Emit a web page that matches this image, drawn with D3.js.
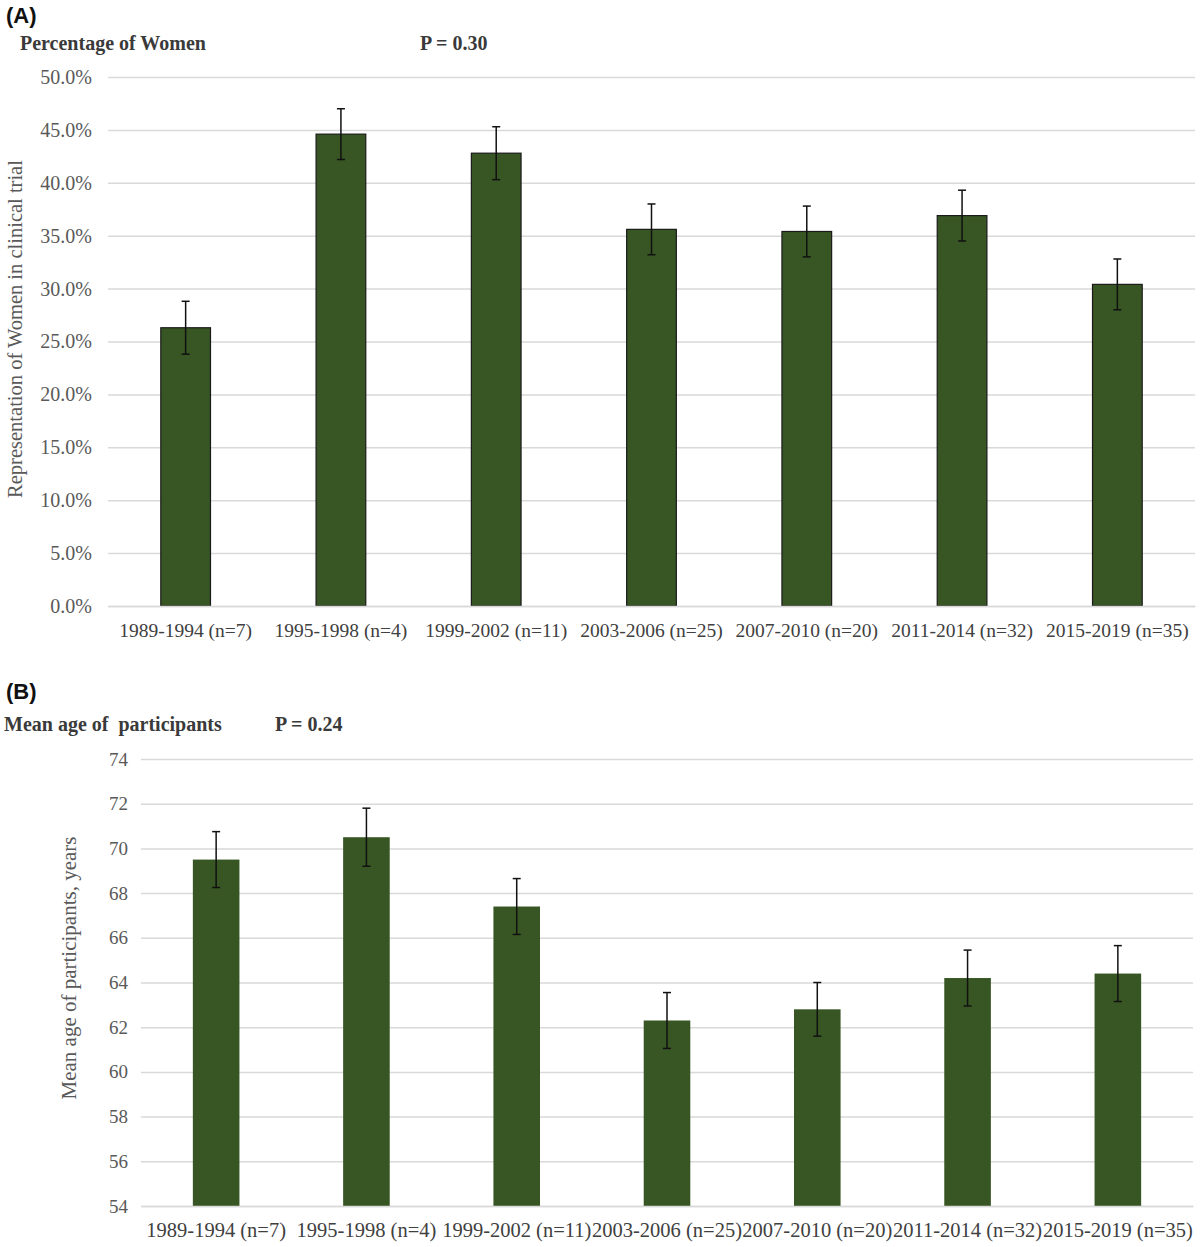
<!DOCTYPE html>
<html><head><meta charset="utf-8">
<script src="https://cdn.jsdelivr.net/npm/d3@7"></script>
<style>body{margin:0;background:#fff}svg{display:block}</style>
</head><body><svg id="c" width="1200" height="1247"></svg>
<script>
const categories = ["1989-1994 (n=7)","1995-1998 (n=4)","1999-2002 (n=11)","2003-2006 (n=25)","2007-2010 (n=20)","2011-2014 (n=32)","2015-2019 (n=35)"];
const womenPct = [26.3, 44.6, 42.8, 35.6, 35.4, 36.9, 30.4];
const womenErr = [2.5, 2.4, 2.5, 2.4, 2.4, 2.4, 2.4];
const womenTicks = [0,5,10,15,20,25,30,35,40,45,50];
const ageMean = [69.5, 70.5, 67.4, 62.3, 62.8, 64.2, 64.4];
const ageErr = [1.25, 1.3, 1.25, 1.25, 1.2, 1.25, 1.25];
const ageTicks = [54,56,58,60,62,64,66,68,70,72,74];

const svg = d3.select("#c");
const serif = "'Liberation Serif','Times New Roman',serif";
const green = "#375623";

function panel(o){
  const g = svg.append("g");
  const x = d3.scaleBand().domain(categories).range([o.x0,o.x1]).paddingInner(o.pad).paddingOuter(o.pad/2);
  const y = d3.scaleLinear().domain(o.domain).range([o.yb,o.yt]);
  const yAxis = d3.axisLeft(y).tickValues(o.ticks).tickSize(-(o.x1-o.x0)).tickPadding(o.tickPad).tickFormat(o.fmt);
  const ga = g.append("g").attr("transform",`translate(${o.x0},0)`).call(yAxis);
  ga.select(".domain").remove();
  ga.selectAll(".tick line").attr("stroke","#d9d9d9").attr("stroke-width",1.5);
  ga.selectAll(".tick text").attr("font-family",serif).attr("font-size",o.tickFs).attr("fill","#595959");
  g.selectAll("rect.bar").data(o.vals).join("rect")
    .attr("x",(d,i)=>x(categories[i])).attr("width",x.bandwidth())
    .attr("y",d=>y(d)).attr("height",d=>y(o.domain[0])-y(d))
    .attr("fill",green).attr("stroke",o.outline?"#1a1a1a":"none").attr("stroke-width",1.2);
  const eb = g.selectAll("g.eb").data(o.vals).join("g");
  eb.append("line").attr("x1",(d,i)=>x(categories[i])+x.bandwidth()/2).attr("x2",(d,i)=>x(categories[i])+x.bandwidth()/2)
    .attr("y1",(d,i)=>y(d+o.err[i])).attr("y2",(d,i)=>y(d-o.err[i])).attr("stroke","#111").attr("stroke-width",1.5);
  [1,-1].forEach(s=>{
    eb.append("line").attr("x1",(d,i)=>x(categories[i])+x.bandwidth()/2-4).attr("x2",(d,i)=>x(categories[i])+x.bandwidth()/2+4)
      .attr("y1",(d,i)=>y(d+s*o.err[i])).attr("y2",(d,i)=>y(d+s*o.err[i])).attr("stroke","#111").attr("stroke-width",1.5);
  });
  const xAxis = d3.axisBottom(x).tickSize(0).tickPadding(o.xPad);
  const gx = g.append("g").attr("transform",`translate(0,${o.yb})`).call(xAxis);
  gx.select(".domain").attr("stroke","#d9d9d9").attr("stroke-width",1.5);
  gx.selectAll(".tick text").attr("font-family",serif).attr("font-size",o.xFs).attr("fill","#404040");
  g.append("text").attr("transform",`translate(${o.ytX},${o.ytY}) rotate(-90)`)
    .attr("text-anchor","middle").attr("font-family",serif).attr("font-size",o.ytFs).attr("fill","#595959").text(o.ytitle);
  g.append("text").attr("x",o.letterX).attr("y",o.letterY).attr("font-family","'Liberation Sans',Arial,sans-serif")
    .attr("font-weight","bold").attr("font-size",22).attr("fill","#111").text(o.letter);
  g.append("text").attr("x",o.titleX).attr("y",o.titleY).attr("font-family",serif).attr("font-weight","bold")
    .attr("font-size",20).attr("fill","#3a3a3a").style("white-space","pre").text(o.title);
  g.append("text").attr("x",o.pX).attr("y",o.titleY).attr("font-family",serif).attr("font-weight","bold")
    .attr("font-size",20).attr("fill","#3a3a3a").text(o.pText);
}

panel({x0:108,x1:1195,pad:0.68,domain:[0,50],yb:606,yt:77,ticks:womenTicks,fmt:d=>d.toFixed(1)+"%",
  tickPad:16,tickFs:20,vals:womenPct,err:womenErr,outline:true,xPad:17,xFs:19.5,
  ytitle:"Representation of Women in clinical trial",ytX:22,ytY:329,ytFs:20.5,
  letter:"(A)",letterX:6,letterY:23,title:"Percentage of Women",titleX:20,titleY:50,pText:"P = 0.30",pX:420});

panel({x0:141,x1:1193,pad:0.69,domain:[54,74],yb:1206,yt:759,ticks:ageTicks,fmt:d=>d,
  tickPad:13,tickFs:19,vals:ageMean,err:ageErr,outline:false,xPad:16,xFs:20.5,
  ytitle:"Mean age of participants, years",ytX:76,ytY:968,ytFs:21,
  letter:"(B)",letterX:6,letterY:699,title:"Mean age of  participants",titleX:4,titleY:731,pText:"P = 0.24",pX:275});
</script></body></html>
